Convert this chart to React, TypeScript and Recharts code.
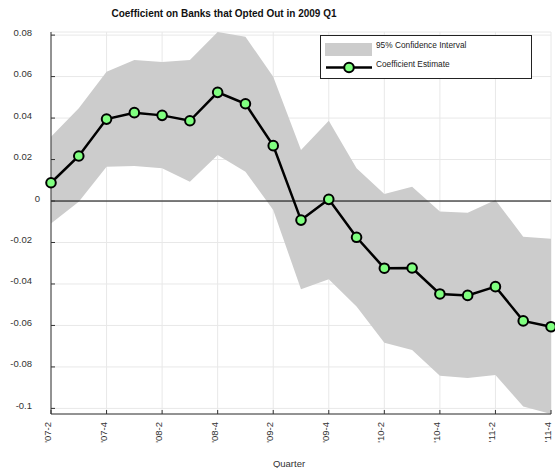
import React from "react";
import {
  Area, CartesianGrid, ComposedChart, Line, ReferenceLine, XAxis, YAxis,
} from "recharts";

const quarters = [
  "'07-2", "'07-3", "'07-4", "'08-1", "'08-2", "'08-3", "'08-4", "'09-1", "'09-2", "'09-3",
  "'09-4", "'10-1", "'10-2", "'10-3", "'10-4", "'11-1", "'11-2", "'11-3", "'11-4",
];
const estimate = [
  0.0088, 0.0217, 0.0395, 0.0426, 0.0413, 0.0387, 0.0524, 0.0469, 0.0267, -0.0092,
  0.0008, -0.0175, -0.0324, -0.0323, -0.0448, -0.0455, -0.0413, -0.0578, -0.0606,
];
const upper = [
  0.031, 0.0447, 0.0623, 0.068, 0.067, 0.068, 0.0815, 0.0792, 0.0599, 0.0246,
  0.0387, 0.0158, 0.0034, 0.0069, -0.0051, -0.0056, 0.0005, -0.0172, -0.0182,
];
const lower = [
  -0.0108, -0.0003, 0.0165, 0.0169, 0.0158, 0.0093, 0.0222, 0.0141, -0.0043, -0.0426,
  -0.0377, -0.0509, -0.0683, -0.0718, -0.0843, -0.0853, -0.0839, -0.0991, -0.1027,
];
const xTicks = [0, 2, 4, 6, 8, 10, 12, 14, 16, 18];
const yTicks = [-0.1, -0.08, -0.06, -0.04, -0.02, 0, 0.02, 0.04, 0.06, 0.08];
const yDomain = [-0.1027, 0.0815];

const rows = quarters.map((q, i) => ({
  idx: i,
  quarter: q,
  est: estimate[i],
  ci: [lower[i], upper[i]],
}));

const FONT = "'Liberation Sans', Arial, Helvetica, sans-serif";
const GREEN = "#80ff80";
const BAND = "#cccccc";
const FRAME = "#333";

const fmtY = (v: number) => String(parseFloat(v.toFixed(2)));

const YTick = ({ x, y, payload }: any) => {
  const v = payload.value as number;
  // the zero label sits further right in the original
  const shift = v === 0 ? 8 : 0;
  return (
    <text x={x + shift} y={y - 3} textAnchor="end" dominantBaseline="central"
      fontSize={9.5} fill="#333" fontFamily={FONT}>
      {fmtY(v)}
    </text>
  );
};

const XTick = ({ x, y, payload }: any) => (
  <text x={x} y={y} transform={`rotate(-90 ${x} ${y})`} textAnchor="end"
    fontSize={9.5} fill="#333" fontFamily={FONT}>
    {quarters[payload.value]}
  </text>
);

const LegendBox = () => (
  <svg width={212} height={44} style={{ position: "absolute", left: 320, top: 35 }}>
    <rect x={0.5} y={0.5} width={211} height={43} fill="#fff" stroke="#222" />
    <rect x={5} y={8} width={47} height={13} fill={BAND} />
    <text x={56} y={10} dominantBaseline="central" fontSize={8.3} fill="#222" fontFamily={FONT}>
      95% Confidence Interval
    </text>
    <line x1={6} x2={52} y1={32.5} y2={32.5} stroke="#000" strokeWidth={2.5} />
    <circle cx={29} cy={32.5} r={4.8} fill={GREEN} stroke="#000" strokeWidth={2} />
    <text x={56} y={29} dominantBaseline="central" fontSize={8.3} fill="#222" fontFamily={FONT}>
      Coefficient Estimate
    </text>
  </svg>
);

export default function App() {
  return (
    <div style={{ position: "absolute", left: 0, top: 0, width: 555, height: 468, background: "#fff", fontFamily: FONT }}>
      <div style={{
        position: "absolute", left: 0, width: 448, top: 7, textAlign: "center",
        fontSize: 10, fontWeight: "bold", color: "#111", lineHeight: "14px",
      }}>
        Coefficient on Banks that Opted Out in 2009 Q1
      </div>
      <ComposedChart width={555} height={468} data={rows}
        margin={{ top: 32, right: 4, bottom: 0, left: 0 }}>
        <CartesianGrid stroke="#e8e8e8" strokeWidth={1} />
        <XAxis dataKey="idx" type="number" domain={[0, 18]} ticks={xTicks} interval={0}
          height={54} tickSize={-4} tickMargin={12} tick={<XTick />}
          axisLine={{ stroke: FRAME }} tickLine={{ stroke: FRAME }}
          label={{ value: "Quarter", position: "insideBottom", offset: 1, dx: -12, fontSize: 9.5, fill: "#333" }} />
        <XAxis xAxisId="top" orientation="top" dataKey="idx" type="number" domain={[0, 18]}
          ticks={xTicks} interval={0} height={0} tickSize={-4} tick={false}
          axisLine={{ stroke: FRAME }} tickLine={{ stroke: FRAME }} />
        <YAxis type="number" domain={yDomain} ticks={yTicks} interval={0} width={51}
          allowDataOverflow tickSize={-4} tickMargin={23} tick={<YTick />}
          axisLine={{ stroke: FRAME }} tickLine={{ stroke: FRAME }} />
        <YAxis yAxisId="right" orientation="right" type="number" domain={yDomain} ticks={yTicks}
          interval={0} width={0} allowDataOverflow tickSize={-4} tick={false}
          axisLine={{ stroke: FRAME }} tickLine={{ stroke: FRAME }} />
        <Area type="linear" dataKey="ci" fill={BAND} fillOpacity={1} stroke="none"
          isAnimationActive={false} />
        <ReferenceLine y={0} stroke="#000" strokeWidth={1} />
        <Line type="linear" dataKey="est" stroke="#000" strokeWidth={2.5}
          dot={{ r: 4.8, fill: GREEN, stroke: "#000", strokeWidth: 2 }}
          isAnimationActive={false} />
      </ComposedChart>
      <LegendBox />
    </div>
  );
}
